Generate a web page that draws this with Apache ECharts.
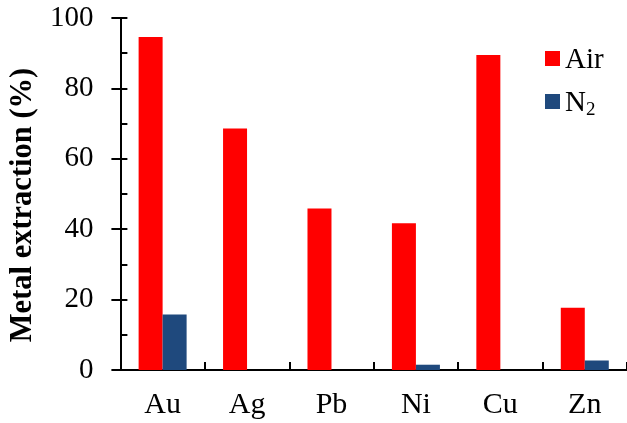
<!DOCTYPE html>
<html>
<head>
<meta charset="utf-8">
<script src="https://cdn.jsdelivr.net/npm/echarts@6/dist/echarts.min.js"></script>
<style>html,body{margin:0;padding:0;background:#fff;}#c{width:627px;height:423px;}</style>
</head>
<body>
<div id="c"></div>
<script>
var categories = ['Au', 'Ag', 'Pb', 'Ni', 'Cu', 'Zn'];
var airValues = [94.6, 68.6, 45.9, 41.7, 89.5, 17.7];
var n2Values = [15.8, 0, 0, 1.5, 0, 2.7];
var yTicks = [0, 20, 40, 60, 80, 100];

var FONT = 'Liberation Serif';
var chart = echarts.init(document.getElementById('c'), null, {renderer: 'canvas'});
chart.setOption({
  animation: false,
  backgroundColor: '#fff',
  grid: {left: 120, top: 18, bottom: 53, right: -6, containLabel: false},
  legend: {
    orient: 'vertical', left: 540, top: 41,
    itemWidth: 15, itemHeight: 15, itemGap: 14,
    icon: 'rect',
    data: ['Air', 'N2'],
    textStyle: {fontFamily: FONT, fontSize: 29, color: '#000', padding: [4, 0, 0, 0],
      rich: {n: {fontFamily: FONT, fontSize: 29, color: '#000'},
             s: {fontFamily: FONT, fontSize: 19, color: '#000', verticalAlign: 'bottom', padding: [14, 0, 0, 0]}}},
    formatter: function (name) { return name === 'N2' ? '{n|N}{s|2}' : name; }
  },
  xAxis: [{
    type: 'category', data: categories, position: 'bottom',
    axisLine: {show: true, lineStyle: {color: '#000', width: 2}},
    axisTick: {show: true, inside: true, length: 8, lineStyle: {color: '#000', width: 2}},
    axisLabel: {fontFamily: FONT, fontSize: 30, color: '#000', margin: 20},
    splitLine: {show: false}
  }, {
    type: 'category', data: categories, position: 'top',
    axisLine: {show: true, lineStyle: {color: '#000', width: 2}},
    axisTick: {show: false}, axisLabel: {show: false}, splitLine: {show: false}
  }],
  yAxis: [{
    type: 'value', min: yTicks[0], max: yTicks[yTicks.length - 1], interval: 20,
    position: 'left',
    name: 'Metal extraction (%)', nameLocation: 'middle', nameGap: 80, nameRotate: 90,
    nameTextStyle: {fontFamily: FONT, fontSize: 30.5, fontWeight: 'bold', color: '#000', padding: [0, 0, 0, -22]},
    axisLine: {show: true, lineStyle: {color: '#000', width: 2}},
    axisTick: {show: true, inside: false, length: 9, lineStyle: {color: '#000', width: 2}},
    axisLabel: {fontFamily: FONT, fontSize: 29, color: '#000', margin: 27},
    splitLine: {show: false}
  }, {
    type: 'value', min: 0, max: 100, interval: 10, position: 'left', offset: 0,
    axisLine: {show: false},
    axisTick: {show: true, inside: true, length: 7, lineStyle: {color: '#000', width: 2}},
    axisLabel: {show: false}, splitLine: {show: false}
  }],
  series: [{
    name: 'Air', type: 'bar', data: airValues, xAxisIndex: 0, yAxisIndex: 0,
    barWidth: 24, barGap: '0%', itemStyle: {color: '#FF0000'}
  }, {
    name: 'N2', type: 'bar', data: n2Values, xAxisIndex: 0, yAxisIndex: 0,
    barWidth: 24, barGap: '0%', itemStyle: {color: '#1F497D'}
  }]
});
</script>
</body>
</html>
